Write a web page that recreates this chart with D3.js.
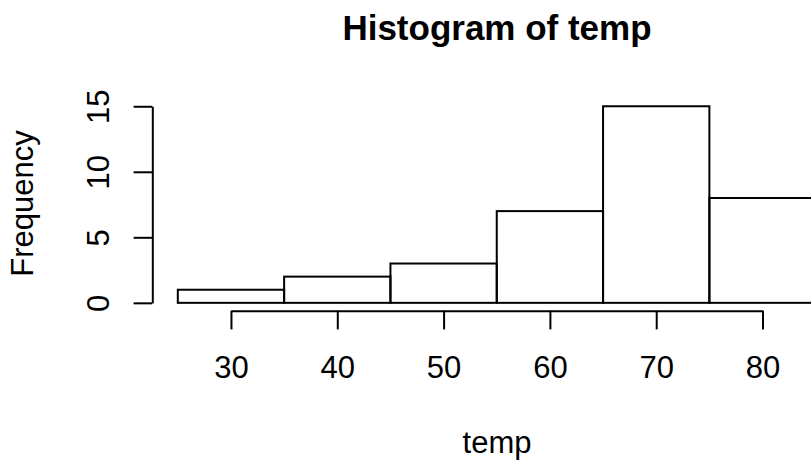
<!DOCTYPE html>
<html>
<head>
<meta charset="utf-8">
<script src="https://cdn.jsdelivr.net/npm/d3@7"></script>
<style>
  html, body { margin: 0; padding: 0; background: #fff; overflow: hidden; }
  svg { display: block; }
  text { font-family: "Liberation Sans", Arial, Helvetica, sans-serif; fill: #000; }
</style>
</head>
<body>
<div id="chart"></div>
<script>
// ---- data ----
const binEdges = [25, 35, 45, 55, 65, 75, 85];
const counts = [1, 2, 3, 7, 15, 8];
const xTicks = [30, 40, 50, 60, 70, 80];
const yTicks = [0, 5, 10, 15];
const title = "Histogram of temp";
const xLabel = "temp";
const yLabel = "Frequency";

const W = 811, H = 464;
const svg = d3.select("#chart").append("svg").attr("width", W).attr("height", H);

// plot region (R-style, 4% extension)
const x = d3.scaleLinear().domain([22.6, 87.4]).range([152.3, 841.2]);
const y = d3.scaleLinear().domain([-0.6, 15.6]).range([310.7, 98.4]);

const bins = counts.map((c, i) => ({ x0: binEdges[i], x1: binEdges[i + 1], n: c }));

svg.append("g").selectAll("rect").data(bins).join("rect")
  .attr("x", d => x(d.x0))
  .attr("y", d => y(d.n))
  .attr("width", d => x(d.x1) - x(d.x0))
  .attr("height", d => y(0) - y(d.n))
  .attr("fill", "none")
  .attr("stroke", "#000")
  .attr("stroke-width", 2);

const tickLen = 18.7;
const fs = 31;

// x axis
const xa = x.copy().domain([xTicks[0], xTicks[xTicks.length - 1]])
  .range([x(xTicks[0]), x(xTicks[xTicks.length - 1])]);
const gx = svg.append("g").attr("transform", `translate(0,${310.7})`)
  .call(d3.axisBottom(xa).tickValues(xTicks).tickSize(tickLen).tickSizeOuter(0).tickFormat(d3.format("d")));
gx.attr("font-size", null).attr("font-family", null);
gx.selectAll("path, line").attr("stroke", "#000").attr("stroke-width", 2);
gx.selectAll("text").attr("y", 378 - 310.7).attr("dy", 0).style("font-size", fs + "px");

// y axis
const ya = y.copy().domain([yTicks[0], yTicks[yTicks.length - 1]])
  .range([y(yTicks[0]), y(yTicks[yTicks.length - 1])]);
const gy = svg.append("g").attr("transform", `translate(${152.3},0)`)
  .call(d3.axisLeft(ya).tickValues(yTicks).tickSize(tickLen).tickSizeOuter(0).tickFormat(d3.format("d")));
gy.attr("font-size", null).attr("font-family", null);
gy.selectAll("path, line").attr("stroke", "#000").attr("stroke-width", 2);
gy.selectAll("text")
  .attr("transform", "rotate(-90)")
  .attr("x", 0).attr("y", 109 - 152.3).attr("dy", 0)
  .attr("text-anchor", "middle")
  .style("font-size", fs + "px");

// titles
svg.append("text").attr("x", 497).attr("y", 40)
  .attr("text-anchor", "middle").style("font-size", "35px").style("font-weight", "bold")
  .text(title);
svg.append("text").attr("x", 497).attr("y", 453)
  .attr("text-anchor", "middle").style("font-size", fs + "px")
  .text(xLabel);
svg.append("text").attr("transform", `translate(33,${203.5}) rotate(-90)`)
  .attr("text-anchor", "middle").style("font-size", fs + "px")
  .text(yLabel);
</script>
</body>
</html>
